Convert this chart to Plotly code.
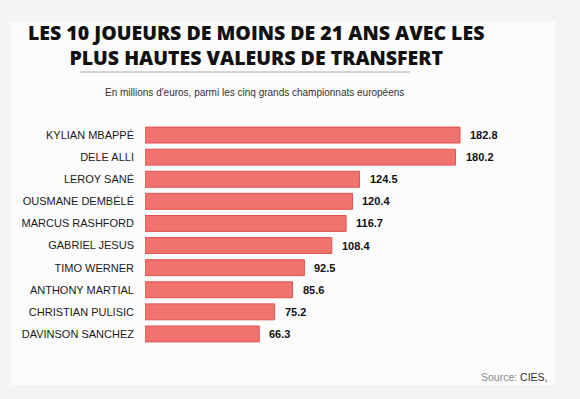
import plotly.graph_objects as go

players = ["KYLIAN MBAPPÉ", "DELE ALLI", "LEROY SANÉ", "OUSMANE DEMBÉLÉ", "MARCUS RASHFORD",
           "GABRIEL JESUS", "TIMO WERNER", "ANTHONY MARTIAL", "CHRISTIAN PULISIC", "DAVINSON SANCHEZ"]
values = [182.8, 180.2, 124.5, 120.4, 116.7, 108.4, 92.5, 85.6, 75.2, 66.3]
labels = [f"{v:.1f}" for v in values]
title_lines = ["LES 10 JOUEURS DE MOINS DE 21 ANS AVEC LES", "PLUS HAUTES VALEURS DE TRANSFERT"]

W, H = 580, 399
L, R, T, B = 145, 20, 124, 54
pw, ph = W - L - R, H - T - B
xmax = pw / 1.7232

def px(x):
    return (x - L) / pw

def py(y):
    return 1 - (y - T) / ph

fig = go.Figure()
fig.add_trace(go.Bar(
    y=players, x=values, orientation="h",
    marker=dict(color="#f07370", line=dict(color="#e5534e", width=1)),
    width=0.72,
    hoverinfo="skip",
))

annotations = [
    dict(x=v, y=p, xref="x", yref="y", text=t, showarrow=False, xanchor="left",
         yanchor="middle", xshift=8,
         font=dict(family="Liberation Sans, Arial", size=11, color="#111", weight="bold"))
    for p, v, t in zip(players, values, labels)
]

annotations += [
    dict(text="<br>".join(title_lines), xref="paper", yref="paper", x=px(256), y=py(45.5),
         xanchor="center", yanchor="middle", showarrow=False, align="center",
         font=dict(family="Open Sans", size=19.5, color="#111", weight=800)),
    dict(text="En millions d'euros, parmi les cinq grands championnats européens",
         xref="paper", yref="paper", x=px(254), y=py(92), xanchor="center", yanchor="middle",
         showarrow=False, font=dict(family="Liberation Sans, Arial", size=10, color="#333")),
    dict(text="<span style='color:#888'>Source: </span>CIES,",
         xref="paper", yref="paper", x=px(550), y=py(377), xanchor="right", yanchor="middle",
         showarrow=False, font=dict(family="Liberation Sans, Arial", size=10.5, color="#333")),
]

fig.update_layout(
    width=W, height=H,
    margin=dict(l=L, r=R, t=T, b=B),
    paper_bgcolor="#f4f4f4", plot_bgcolor="rgba(0,0,0,0)",
    showlegend=False,
    bargap=0.28,
    xaxis=dict(range=[0, xmax], visible=False, fixedrange=True),
    yaxis=dict(autorange="reversed", showgrid=False, showline=False, zeroline=False,
               ticks="", ticklabelstandoff=10, fixedrange=True,
               tickfont=dict(family="Liberation Sans, Arial", size=11, color="#1a1a1a")),
    shapes=[
        dict(type="rect", xref="paper", yref="paper", x0=px(10), x1=px(555), y0=py(22), y1=py(385),
             fillcolor="#fcfcfc", line=dict(width=0), layer="below"),
        dict(type="line", xref="paper", yref="paper", x0=px(80), x1=px(410), y0=py(72), y1=py(72),
             line=dict(color="#c8c8c8", width=1.5)),
    ],
    annotations=annotations,
)

fig.write_html("out.html", config={"displayModeBar": False},
               post_script="document.body.style.margin='0';")
